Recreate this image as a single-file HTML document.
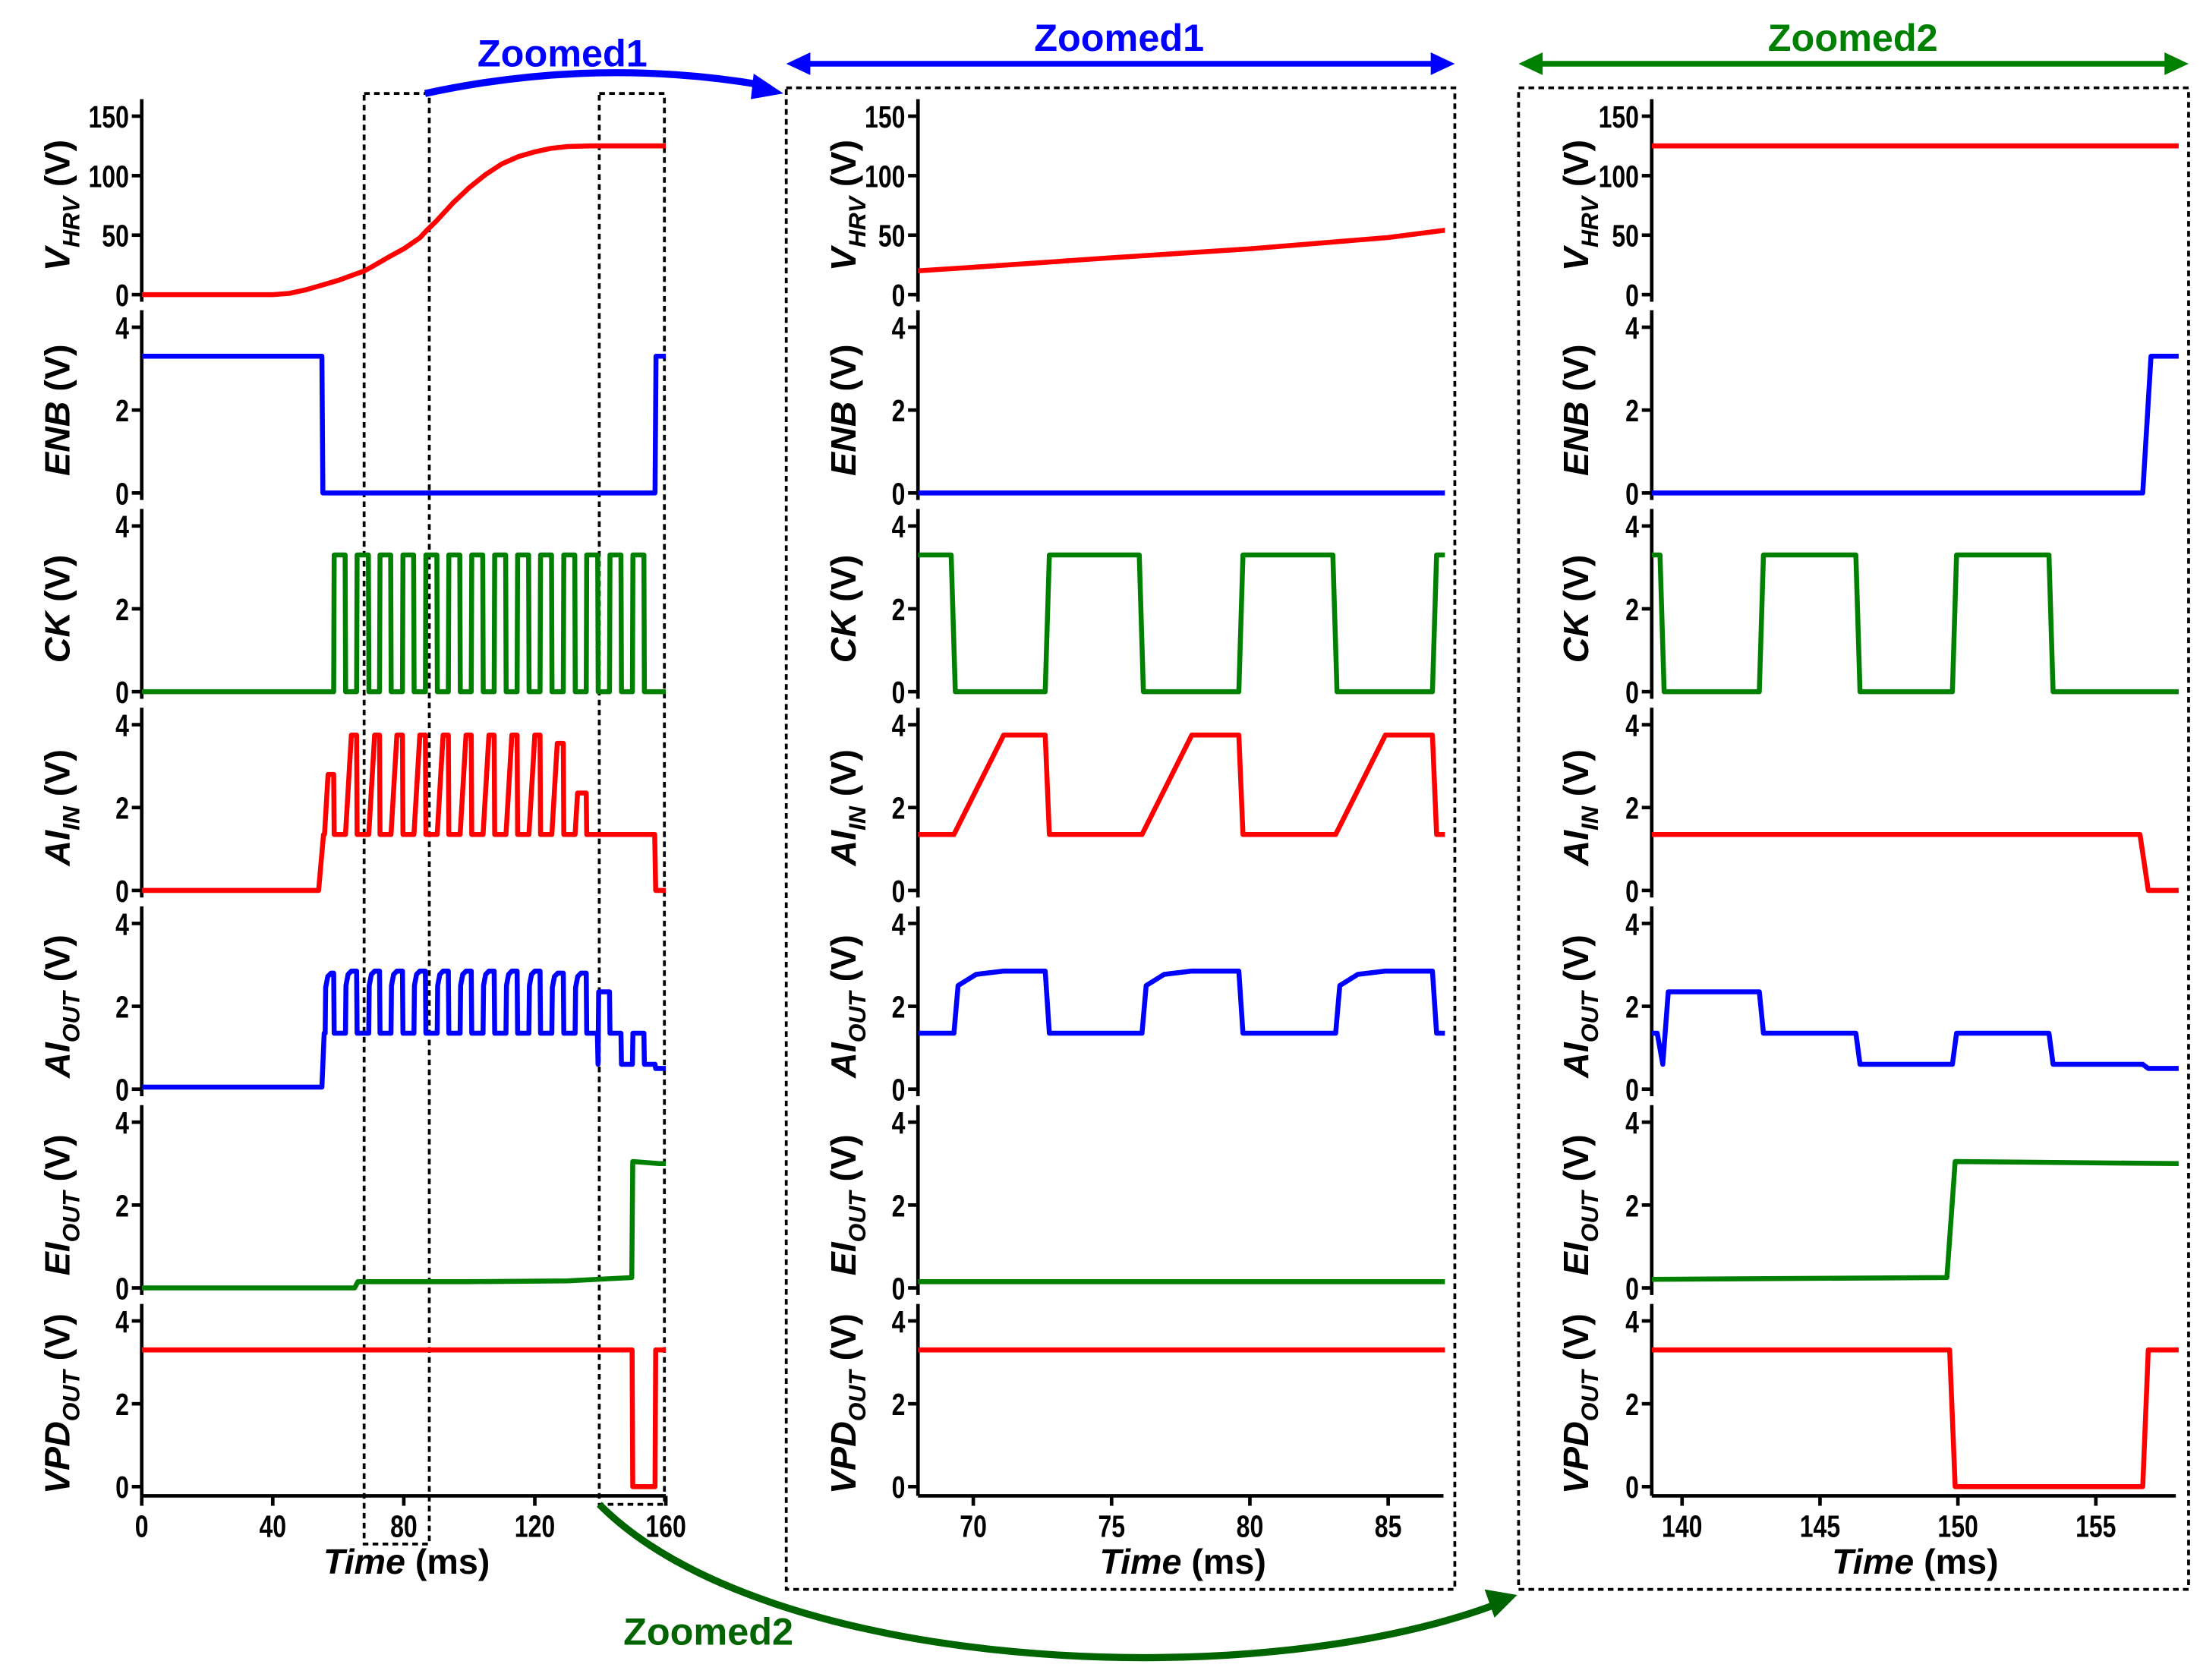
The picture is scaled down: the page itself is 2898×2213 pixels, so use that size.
<!DOCTYPE html>
<html><head><meta charset="utf-8"><style>
html,body{margin:0;padding:0;background:#fff;}
svg{display:block;}
text{font-family:"Liberation Sans",Arial,sans-serif;font-weight:bold;}
</style></head><body>
<svg id="fig" xmlns="http://www.w3.org/2000/svg" width="2898" height="2213" viewBox="0 0 1553 1186">
<defs>
<clipPath id="c1"><rect x="100" y="40" width="372" height="1030"/></clipPath>
<clipPath id="c2"><rect x="648" y="40" width="372" height="1030"/></clipPath>
<clipPath id="c3"><rect x="1166" y="40" width="372" height="1030"/></clipPath>
</defs>
<g id="annot">
<rect x="257" y="66" width="46" height="1024" fill="none" stroke="#000" stroke-width="2" stroke-dasharray="4,3"/>
<rect x="423" y="66" width="46" height="996" fill="none" stroke="#000" stroke-width="2" stroke-dasharray="4,3"/>
<rect x="555" y="62" width="472" height="1060" fill="none" stroke="#000" stroke-width="2" stroke-dasharray="4,3"/>
<rect x="1072" y="62" width="473" height="1060" fill="none" stroke="#000" stroke-width="2" stroke-dasharray="4,3"/>
<path d="M300,66 Q420,40 538,60" fill="none" stroke="#0000ff" stroke-width="5"/>
<polygon points="553,66 532,52 530,70" fill="#0000ff"/>
<text x="397" y="47" font-size="27" fill="#0000ff" text-anchor="middle">Zoomed1</text>
<line x1="568" y1="45" x2="1014" y2="45" stroke="#0000ff" stroke-width="4"/>
<polygon points="555,45 572,37 572,53" fill="#0000ff"/>
<polygon points="1027,45 1010,37 1010,53" fill="#0000ff"/>
<text x="790" y="36" font-size="27" fill="#0000ff" text-anchor="middle">Zoomed1</text>
<line x1="1085" y1="45" x2="1532" y2="45" stroke="#008000" stroke-width="4"/>
<polygon points="1072,45 1089,37 1089,53" fill="#008000"/>
<polygon points="1545,45 1528,37 1528,53" fill="#008000"/>
<text x="1308" y="36" font-size="27" fill="#008000" text-anchor="middle">Zoomed2</text>
<path d="M423,1062 C540,1180 880,1198 1055,1133" fill="none" stroke="#006400" stroke-width="5"/>
<polygon points="1071,1126 1048,1122 1055,1142" fill="#006400"/>
<text x="500" y="1161" font-size="27" fill="#006400" text-anchor="middle">Zoomed2</text>
</g>
<g id="plots"></g>
</svg>
<script>
// ---- data (time in ms, values in V) ----
const vhrvT=[0,40,45,50,55,60,65,68,70,75,80,85,87,90,95,100,105,110,115,120,125,130,137,160];
const vhrvV=[0,0,1,4,8,12,17,20,23,31,38.5,48,54,62,77,90,101,110,116,120,123,124.5,125,125];
const enbT=[0,55,55.3,156.7,157,160];
const enbV=[3.3,3.3,0,0,3.3,3.3];
const ckHighStart=[58.6,65.6,72.6,79.6,86.6,93.6,100.6,107.6,114.6,121.6,128.7,135.7,142.8,149.8];
const ckHighEnd=[62.1,69.2,76.0,83.0,90.1,97.1,104.1,111.1,118.1,125.1,132.2,139.2,146.3,153.3];
const aiInPeaks=[2.8,3.75,3.75,3.75,3.75,3.75,3.75,3.75,3.75,3.75,3.55,2.35];
const aiOutHighs=[2.8,2.85,2.85,2.85,2.85,2.85,2.85,2.85,2.85,2.85,2.8,2.8];
const aiOutTailT=[139.1,139.3,139.5,142.8,142.95,146.3,146.45,149.8,149.95,153.3,153.45,156.7,156.9,160];
const aiOutTailV=[1.35,0.6,2.35,2.35,1.35,1.35,0.6,0.6,1.35,1.35,0.6,0.6,0.5,0.5];
const eiT=[0,65,66,100,130,149.6,149.9,158,160];
const eiV=[0,0,0.15,0.15,0.17,0.25,3.05,3.0,3.0];
const vpdT=[0,149.7,149.9,156.7,156.9,160];
const vpdV=[3.3,3.3,0,0,3.3,3.3];
const vhrvTicks=[0,50,100,150];
const vTicks=[0,2,4];
const p1Ticks=[0,40,80,120,160];
const p2Ticks=[70,75,80,85];
const p3Ticks=[140,145,150,155];

// ---- build point series ----
function zipPts(t,v){return t.map((x,i)=>[x,v[i]]);}
const ckPts=[[0,0]];
for(let i=0;i<ckHighStart.length;i++){
  ckPts.push([ckHighStart[i],0],[ckHighStart[i]+0.15,3.3],[ckHighEnd[i],3.3],[ckHighEnd[i]+0.15,0]);
}
ckPts.push([160,0]);
const aiInPts=[[0,0],[54,0],[55.5,1.35]];
for(let i=0;i<aiInPeaks.length;i++){
  const ls=i===0?55.8:ckHighEnd[i-1]+0.1, le=ckHighStart[i], pk=aiInPeaks[i];
  let r=1.8*(pk-1.35)/2.4; if(r>le-ls-0.2) r=le-ls-0.2;
  aiInPts.push([ls,1.35],[ls+r,pk],[le,pk],[le+0.15,1.35]);
}
aiInPts.push([156.6,1.35],[156.9,0],[160,0]);
const aiOutPts=[[0,0.05],[55,0.05],[55.7,1.35]];
for(let i=0;i<aiOutHighs.length;i++){
  const ls=i===0?56:ckHighEnd[i-1]+0.1, le=ckHighStart[i], h=aiOutHighs[i];
  aiOutPts.push([ls,1.35],[ls+0.15,h-0.35],[ls+0.8,h-0.08],[ls+1.8,h],[le,h],[le+0.15,1.35]);
}
aiOutTailT.forEach((t,i)=>aiOutPts.push([t,aiOutTailV[i]]));

// ---- layout ----
const panels=[
  {ax:100,x0:0,x1:160,px1:470,ticks:p1Ticks,clip:'c1',lab:40,tl:287,id:'overview'},
  {ax:648,x0:68,x1:87,px1:1019,ticks:p2Ticks,clip:'c2',lab:595,tl:835,id:'zoom1'},
  {ax:1166,x0:138.9,x1:157.9,px1:1536,ticks:p3Ticks,clip:'c3',lab:1112,tl:1352,id:'zoom2'}
];
const rows=[
  {name:'vhrv',pts:zipPts(vhrvT,vhrvV),color:'#ff0000',ymax:150,ytop:82,ybot:208,ticks:vhrvTicks,label:['V','HRV']},
  {name:'enb',pts:zipPts(enbT,enbV),color:'#0000ff',label:['ENB','']},
  {name:'ck',pts:ckPts,color:'#008000',label:['CK','']},
  {name:'ai-in',pts:aiInPts,color:'#ff0000',label:['AI','IN']},
  {name:'ai-out',pts:aiOutPts,color:'#0000ff',label:['AI','OUT']},
  {name:'ei-out',pts:zipPts(eiT,eiV),color:'#008000',label:['EI','OUT']},
  {name:'vpd-out',pts:zipPts(vpdT,vpdV),color:'#ff0000',label:['VPD','OUT']}
];
for(let r=1;r<rows.length;r++){rows[r].ymax=4;rows[r].ytop=231+140.3*(r-1);rows[r].ybot=348+140.3*(r-1);rows[r].ticks=vTicks;}

const NS='http://www.w3.org/2000/svg';
const root=document.getElementById('plots');
function mk(tag,attrs,parent){const e=document.createElementNS(NS,tag);for(const k in attrs)e.setAttribute(k,attrs[k]);parent.appendChild(e);return e;}
const SX=0.78;

panels.forEach(p=>{
  const g=mk('g',{},root);
  
  
  const xs=t=>p.ax+(t-p.x0)/(p.x1-p.x0)*(p.px1-p.ax);
  rows.forEach((row,ri)=>{
    const ys=v=>row.ybot-(v/row.ymax)*(row.ybot-row.ytop);
    const last=ri===rows.length-1;
    const axTop=row.ytop-12, axBot=last?1056:row.ybot+5;
    const ax=mk('line',{x1:p.ax,x2:p.ax,y1:axTop,y2:axBot,stroke:'#000','stroke-width':2.5},g);
    
    
    row.ticks.forEach(tv=>{
      const y=ys(tv);
      const tk=mk('line',{x1:p.ax-7,x2:p.ax,y1:y,y2:y,stroke:'#000','stroke-width':2.5},g);
      
      
      const tl=mk('text',{x:(p.ax-9)/SX,y:y+8,'font-size':22,'text-anchor':'end',transform:'scale('+SX+',1)'},g);
      tl.textContent=tv;
      
      
    });
    const lbl=mk('text',{x:0,y:0,'font-size':25,'font-style':'italic','text-anchor':'middle',transform:'translate('+(p.lab+9)+','+((row.ytop+row.ybot)/2)+') rotate(-90)'},g);
    
    
    const s1=mk('tspan',{},lbl); s1.textContent=row.label[0];
    if(row.label[1]){const s2=mk('tspan',{'font-size':17,dy:7},lbl); s2.textContent=row.label[1]; const s3=mk('tspan',{dy:-7,'font-style':'normal'},lbl); s3.textContent=' (V)';}
    else{const s3=mk('tspan',{'font-style':'normal'},lbl); s3.textContent=' (V)';}
    const d=row.pts.map((pt,i)=>(i?'L':'M')+xs(pt[0]).toFixed(2)+','+ys(pt[1]).toFixed(2)).join(' ');
    const ln=mk('path',{d:d,fill:'none',stroke:row.color,'stroke-width':3.5,'stroke-linejoin':'round','clip-path':'url(#'+p.clip+')'},g);
    
    
  });
  const xa=mk('line',{x1:p.ax,x2:p.px1,y1:1056,y2:1056,stroke:'#000','stroke-width':2.5},g);
  
  
  p.ticks.forEach(tv=>{
    const x=xs(tv);
    const tk=mk('line',{x1:x,x2:x,y1:1056,y2:1063,stroke:'#000','stroke-width':2.5},g);
    
    
    const tl=mk('text',{x:x/SX,y:1085,'font-size':22,'text-anchor':'middle',transform:'scale('+SX+',1)'},g);
    tl.textContent=tv;
    
    
  });
  const xt=mk('text',{x:p.tl,y:1111,'font-size':25,'text-anchor':'middle'},g);
  
  
  const a=mk('tspan',{'font-style':'italic'},xt); a.textContent='Time';
  const b=mk('tspan',{},xt); b.textContent=' (ms)';
});
</script>
</body></html>
